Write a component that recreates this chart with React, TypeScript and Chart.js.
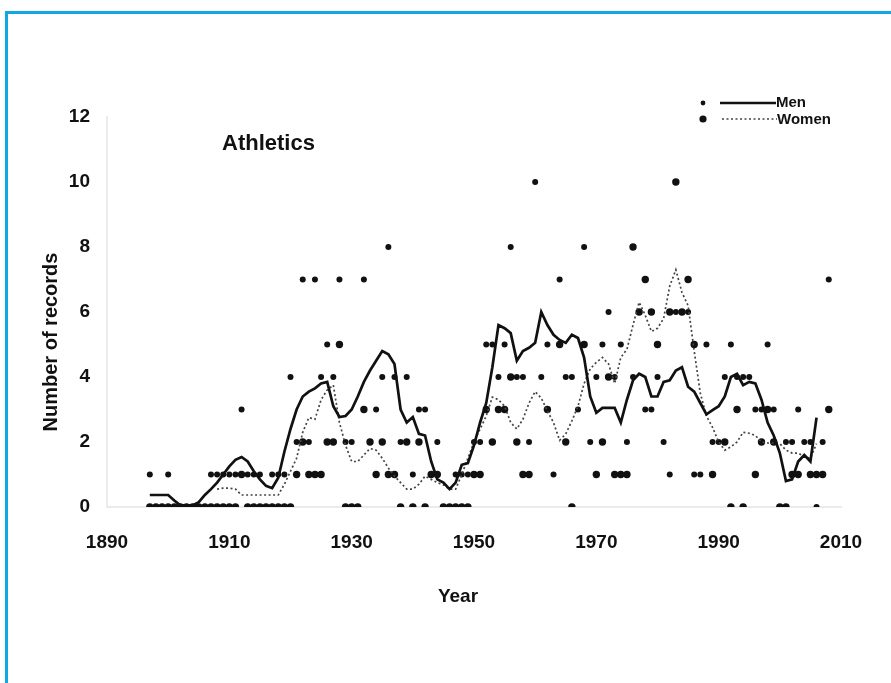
import React, { useEffect, useRef } from "react";
import { Chart, registerables } from "chart.js";

Chart.register(...registerables);

const FONT = '"Liberation Sans", Arial, sans-serif';

// Seasons covered by the record counts
const recordYears = [
  1897, 1898, 1899, 1900, 1901, 1902, 1903, 1904, 1905, 1906,
  1907, 1908, 1909, 1910, 1911, 1912, 1913, 1914, 1915, 1916,
  1917, 1918, 1919, 1920, 1921, 1922, 1923, 1924, 1925, 1926,
  1927, 1928, 1929, 1930, 1931, 1932, 1933, 1934, 1935, 1936,
  1937, 1938, 1939, 1940, 1941, 1942, 1943, 1944, 1945, 1946,
  1947, 1948, 1949, 1950, 1951, 1952, 1953, 1954, 1955, 1956,
  1957, 1958, 1959, 1960, 1961, 1962, 1963, 1964, 1965, 1966,
  1967, 1968, 1969, 1970, 1971, 1972, 1973, 1974, 1975, 1976,
  1977, 1978, 1979, 1980, 1981, 1982, 1983, 1984, 1985, 1986,
  1987, 1988, 1989, 1990, 1991, 1992, 1993, 1994, 1995, 1996,
  1997, 1998, 1999, 2000, 2001, 2002, 2003, 2004, 2005, 2006,
  2007, 2008,
];

// Records set per year, men
const menRecords: (number | null)[] = [
  1, 0, 0, 1, 0, 0, 0, 0, 0, 0,
  1, 1, 1, 1, 1, 3, 1, 1, 1, 0,
  1, 1, 1, 4, 2, 7, 2, 7, 4, 5,
  4, 7, 2, 2, 0, 7, 2, 3, 4, 8,
  4, 2, 4, 1, 3, 3, 1, 2, 0, 0,
  1, 1, 1, 2, 2, 5, 5, 4, 5, 8,
  4, 4, 2, 10, 4, 5, 1, 7, 4, 4,
  3, 8, 2, 4, 5, 6, 4, 5, 2, 4,
  null, 3, 3, 4, 2, 1, 6, 6, 6, 1,
  1, 5, 2, 2, 4, 5, 4, 4, 4, 3,
  3, 5, 3, 0, 2, 2, 3, 2, 2, 0,
  2, 7,
];

// Records set per year, women
const womenRecords: (number | null)[] = [
  0, 0, 0, 0, 0, 0, 0, 0, 0, 0,
  0, 0, 0, 0, 0, 1, 0, 0, 0, 0,
  0, 0, 0, 0, 1, 2, 1, 1, 1, 2,
  2, 5, 0, 0, 0, 3, 2, 1, 2, 1,
  1, 0, 2, 0, 2, 0, 1, 1, 0, 0,
  0, 0, 0, 1, 1, 3, 2, 3, 3, 4,
  2, 1, 1, null, null, 3, null, 5, 2, 0,
  null, 5, null, 1, 2, 4, 1, 1, 1, 8,
  6, 7, 6, 5, null, 6, 10, 6, 7, 5,
  null, null, 1, null, 2, 0, 3, 0, null, 1,
  2, 3, 2, 0, 0, 1, 1, null, 1, 1,
  1, 3,
];

// Smoothed trend, men
const menTrendYears = [
  1897, 1898, 1899, 1900, 1901, 1902, 1903, 1904, 1905, 1906,
  1907, 1908, 1909, 1910, 1911, 1912, 1913, 1914, 1915, 1916,
  1917, 1918, 1919, 1920, 1921, 1922, 1923, 1924, 1925, 1926,
  1927, 1928, 1929, 1930, 1931, 1932, 1933, 1934, 1935, 1936,
  1937, 1938, 1939, 1940, 1941, 1942, 1943, 1944, 1945, 1946,
  1947, 1948, 1949, 1950, 1951, 1952, 1953, 1954, 1955, 1956,
  1957, 1958, 1959, 1960, 1961, 1962, 1963, 1964, 1965, 1966,
  1967, 1968, 1969, 1970, 1971, 1972, 1973, 1974, 1975, 1976,
  1977, 1978, 1979, 1980, 1981, 1982, 1983, 1984, 1985, 1986,
  1987, 1988, 1989, 1990, 1991, 1992, 1993, 1994, 1995, 1996,
  1997, 1998, 1999, 2000, 2001, 2002, 2003, 2004, 2005, 2006,
];
const menTrend = [
  0.37, 0.37, 0.37, 0.37, 0.2, 0.05, 0.05, 0.05, 0.15, 0.37,
  0.55, 0.75, 1.0, 1.25, 1.45, 1.54, 1.4, 1.1, 0.85, 0.65,
  0.58, 0.9, 1.7, 2.4, 3.0, 3.4, 3.55, 3.65, 3.8, 3.85,
  3.1, 2.77, 2.8, 3.0, 3.4, 3.85, 4.2, 4.5, 4.8, 4.7,
  4.4, 3.0, 2.6, 2.77, 2.25, 2.2, 1.4, 0.85, 0.75, 0.55,
  0.75, 1.3, 1.35, 1.9, 2.6, 3.2, 4.3, 5.6, 5.5, 5.35,
  4.5, 4.8, 4.9, 5.05, 6.0, 5.6, 5.3, 5.14, 5.05, 5.3,
  5.2, 4.6, 3.4, 2.9, 3.05, 3.05, 3.05, 2.6, 3.3, 3.9,
  4.1, 4.0, 3.4, 3.4, 3.85, 3.9, 4.2, 4.3, 3.7, 3.55,
  3.2, 2.85, 2.98, 3.1, 3.4, 4.0, 4.1, 3.75, 3.85, 3.8,
  3.3, 2.6, 2.2, 1.66, 0.8, 0.85, 1.4, 1.6, 1.4, 2.75,
];

// Smoothed trend, women
const womenTrendYears = [
  1908, 1909, 1910, 1911, 1912, 1913, 1914, 1915, 1916, 1917,
  1918, 1919, 1920, 1921, 1922, 1923, 1924, 1925, 1926, 1927,
  1928, 1929, 1930, 1931, 1932, 1933, 1934, 1935, 1936, 1937,
  1938, 1939, 1940, 1941, 1942, 1943, 1944, 1945, 1946, 1947,
  1948, 1949, 1950, 1951, 1952, 1953, 1954, 1955, 1956, 1957,
  1958, 1959, 1960, 1961, 1962, 1963, 1964, 1965, 1966, 1967,
  1968, 1969, 1970, 1971, 1972, 1973, 1974, 1975, 1976, 1977,
  1978, 1979, 1980, 1981, 1982, 1983, 1984, 1985, 1986, 1987,
  1988, 1989, 1990, 1991, 1992, 1993, 1994, 1995, 1996, 1997,
  1998, 1999, 2000, 2001, 2002, 2003, 2004, 2005, 2006,
];
const womenTrend = [
  0.55, 0.58, 0.58, 0.55, 0.37, 0.37, 0.37, 0.37, 0.37, 0.37,
  0.37, 0.7, 1.1, 1.5, 2.3, 2.75, 2.7, 3.3, 3.6, 3.75,
  2.6, 1.9, 1.4, 1.4, 1.6, 1.8, 1.75, 1.5, 1.2, 0.95,
  0.75, 0.55, 0.55, 0.7, 0.95, 0.85, 0.75, 0.68, 0.55, 0.55,
  1.0, 1.5, 2.0, 2.4, 2.8, 3.38, 3.3, 3.1, 2.6, 2.4,
  2.7, 3.2, 3.55, 3.35, 2.95, 2.6, 2.05, 2.25, 2.65, 3.1,
  3.8, 4.25, 4.45, 4.6, 4.4, 3.8, 4.6, 4.85, 5.6, 6.3,
  5.9, 5.4, 5.5, 5.8, 6.8, 7.3, 6.6, 6.2, 4.8, 3.5,
  2.8, 2.45, 2.0, 1.75, 1.85, 2.0, 2.3, 2.27, 2.2, 2.0,
  1.97, 1.97, 1.95, 1.75, 1.66, 1.66, 1.55, 1.5, 1.95,
];

const xTicks = [1890, 1910, 1930, 1950, 1970, 1990, 2010];

function toPoints(xs: number[], ys: (number | null)[]) {
  const out: { x: number; y: number }[] = [];
  xs.forEach((x, i) => {
    const y = ys[i];
    if (y !== null && y !== undefined) out.push({ x, y });
  });
  return out;
}

const annotations = {
  id: "annotations",
  afterDraw(chart: Chart) {
    const { ctx } = chart;
    ctx.save();
    ctx.fillStyle = "#111";
    ctx.textBaseline = "middle";

    // panel title
    ctx.font = `bold 22px ${FONT}`;
    ctx.textAlign = "left";
    ctx.fillText("Athletics", 222, 144);

    // axis titles
    ctx.font = `bold 19px ${FONT}`;
    ctx.textAlign = "center";
    ctx.fillText("Year", 458, 597);
    ctx.save();
    ctx.translate(51, 342);
    ctx.rotate(-Math.PI / 2);
    ctx.font = `bold 20px ${FONT}`;
    ctx.fillText("Number of records", 0, 0);
    ctx.restore();

    // legend
    ctx.font = `bold 15px ${FONT}`;
    ctx.textAlign = "left";
    ctx.beginPath();
    ctx.arc(703, 103, 2.4, 0, Math.PI * 2);
    ctx.fill();
    ctx.beginPath();
    ctx.arc(703, 119, 3.6, 0, Math.PI * 2);
    ctx.fill();
    ctx.strokeStyle = "#111";
    ctx.lineWidth = 2.6;
    ctx.beginPath();
    ctx.moveTo(720, 103);
    ctx.lineTo(776, 103);
    ctx.stroke();
    ctx.strokeStyle = "#444";
    ctx.lineWidth = 1.7;
    ctx.setLineDash([2, 2.5]);
    ctx.beginPath();
    ctx.moveTo(722, 119);
    ctx.lineTo(777, 119);
    ctx.stroke();
    ctx.setLineDash([]);
    ctx.fillText("Men", 776, 103);
    ctx.fillText("Women", 777, 120);
    ctx.restore();
  },
};

export default function App() {
  const canvasRef = useRef<HTMLCanvasElement | null>(null);

  useEffect(() => {
    const canvas = canvasRef.current;
    if (!canvas) return;
    const chart = new Chart(canvas, {
      type: "scatter",
      data: {
        datasets: [
          {
            type: "line",
            label: "Men (smoothed)",
            data: toPoints(menTrendYears, menTrend),
            borderColor: "#111",
            borderWidth: 2.7,
            pointRadius: 0,
            tension: 0,
          },
          {
            type: "line",
            label: "Women (smoothed)",
            data: toPoints(womenTrendYears, womenTrend),
            borderColor: "#444",
            borderWidth: 1.7,
            borderDash: [2, 2.5],
            pointRadius: 0,
            tension: 0,
          },
          {
            label: "Men",
            data: toPoints(recordYears, menRecords),
            backgroundColor: "#111",
            borderWidth: 0,
            pointRadius: 3,
          },
          {
            label: "Women",
            data: toPoints(recordYears, womenRecords),
            backgroundColor: "#111",
            borderWidth: 0,
            pointRadius: 3.7,
          },
        ],
      } as any,
      options: {
        animation: false,
        responsive: false,
        maintainAspectRatio: false,
        layout: { padding: { left: 0, top: 117, right: 50, bottom: 0 } },
        plugins: { legend: { display: false }, tooltip: { enabled: false } },
        scales: {
          x: {
            type: "linear",
            min: 1890,
            max: 2010,
            afterBuildTicks: (scale: any) => {
              scale.ticks = xTicks.map((v) => ({ value: v }));
            },
            ticks: {
              color: "#111",
              font: { family: FONT, size: 19, weight: "bold" },
              padding: 24,
              callback: (v: any) => String(v),
            },
            grid: { display: false, drawTicks: false },
            border: { color: "#ebebeb", width: 2 },
            afterFit: (scale: any) => {
              scale.height = 176;
            },
          },
          y: {
            min: 0,
            max: 12,
            ticks: {
              stepSize: 2,
              color: "#111",
              font: { family: FONT, size: 19, weight: "bold" },
              padding: 17,
            },
            grid: { display: false, drawTicks: false },
            border: { color: "#ebebeb", width: 2 },
            afterFit: (scale: any) => {
              scale.width = 107;
            },
          },
        },
      } as any,
      plugins: [annotations],
    });
    return () => chart.destroy();
  }, []);

  return (
    <div style={{ position: "fixed", left: 0, top: 0, width: 891, height: 683, background: "#fff", overflow: "hidden" }}>
      <div
        style={{
          position: "absolute",
          left: 5,
          top: 11,
          width: 900,
          height: 700,
          borderLeft: "3px solid #10a8e4",
          borderTop: "3px solid #10a8e4",
        }}
      />
      <canvas ref={canvasRef} width={891} height={683} style={{ position: "absolute", left: 0, top: 0 }} />
    </div>
  );
}
